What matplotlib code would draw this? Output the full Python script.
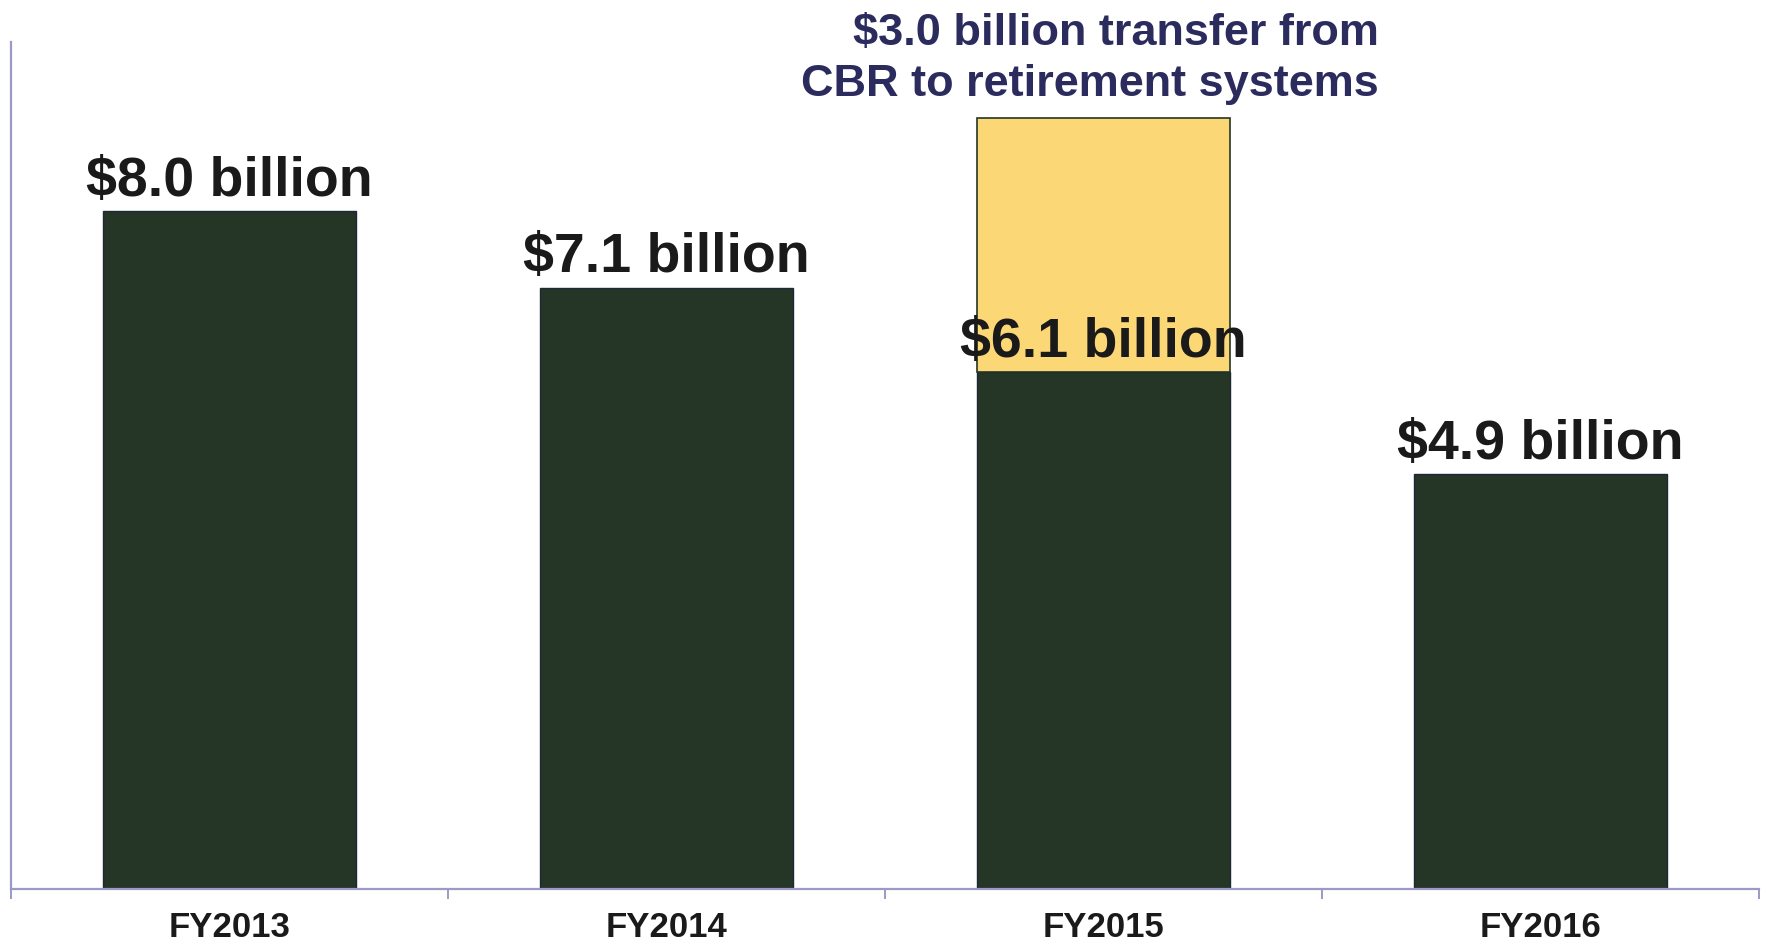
import matplotlib.pyplot as plt

plt.rcParams['font.family'] = ['Liberation Sans', 'DejaVu Sans']

years = ['FY2013', 'FY2014', 'FY2015', 'FY2016']
balance = [8.0, 7.1, 6.1, 4.9]          # $ billion
transfer = [0.0, 0.0, 3.0, 0.0]         # CBR -> retirement systems, $ billion
labels = ['$8.0 billion', '$7.1 billion', '$6.1 billion', '$4.9 billion']
note = '$3.0 billion transfer from\nCBR to retirement systems'

dark = '#253526'
gold = '#fcd775'
spine = '#9a9ac4'

fig = plt.figure(figsize=(17.68, 9.47), dpi=100)
ax = fig.add_axes([0.0062, 0.0612, 0.9887, 0.8944])

x = range(len(years))
ax.bar(x, balance, width=0.58, color=dark, edgecolor='#1e2838', linewidth=1)
ax.bar(x, transfer, width=0.58, bottom=balance, color=gold,
       edgecolor=[dark if t > 0 else 'none' for t in transfer], linewidth=1.2)

for i, (v, lab) in enumerate(zip(balance, labels)):
    ax.annotate(lab, (i, v), xytext=(0, 11), textcoords='offset points',
                ha='center', va='baseline', fontsize=40, fontweight='bold',
                color='#1a1a1a')

# note sits just above the stacked FY2015 bar, right-aligned
top15 = balance[2] + transfer[2]
ax.annotate(note, (2, top15), xytext=(198, 16), textcoords='offset points',
            ha='right', va='baseline', ma='right', fontsize=32.5,
            fontweight='bold', color='#2b2b5e', linespacing=1.32)

ax.set_xlim(-0.5, len(years) - 0.5)
ax.set_ylim(0, 10)

for s in ['top', 'right']:
    ax.spines[s].set_visible(False)
for s in ['left', 'bottom']:
    ax.spines[s].set_color(spine)
    ax.spines[s].set_linewidth(1.6)

ax.set_yticks([])
ax.set_xticks(list(x))
ax.set_xticklabels(years, fontsize=25, fontweight='bold', color='#1a1a1a')
ax.set_xticks([i - 0.5 for i in range(len(years) + 1)], minor=True)
ax.tick_params(axis='x', which='major', length=0, pad=16)
ax.tick_params(axis='x', which='minor', length=7, width=1.4, color=spine)

fig.savefig('out.png', dpi=100)
